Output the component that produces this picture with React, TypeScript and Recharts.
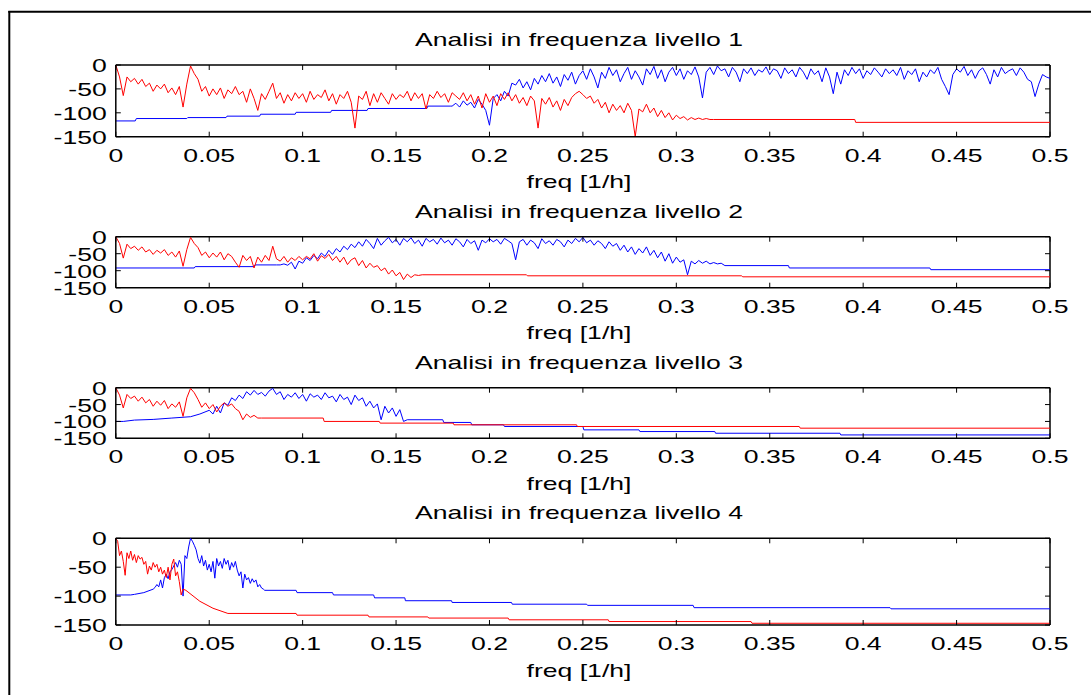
import React from "react";
import { LineChart, Line, XAxis, YAxis, ReferenceLine } from "recharts";

// tick labels shared by the four panels
const xTickLabels = ["0", "0.05", "0.1", "0.15", "0.2", "0.25", "0.3", "0.35", "0.4", "0.45", "0.5"];
const yTickValues = [0, -50, -100, -150];
const panelTitles = [
  "Analisi in frequenza livello 1",
  "Analisi in frequenza livello 2",
  "Analisi in frequenza livello 3",
  "Analisi in frequenza livello 4",
];
const xLabel = "freq [1/h]";

// ---- livello 1 ----
// red: noisy from 0 to 0.32 (step 0.002), then flat
const l1RedNoise = [
  0, -25, -64, -25, -35, -28, -40, -30, -45, -38,
  -55, -42, -50, -40, -58, -48, -62, -45, -88, -40,
  -2, -18, -30, -55, -45, -65, -50, -62, -48, -70,
  -52, -60, -45, -62, -55, -78, -50, -70, -95, -60,
  -72, -55, -38, -70, -58, -80, -62, -75, -58, -70,
  -60, -78, -55, -72, -62, -68, -52, -75, -60, -82,
  -62, -70, -55, -78, -132, -65, -72, -55, -85, -60,
  -78, -58, -70, -82, -60, -72, -62, -68, -55, -75,
  -58, -70, -60, -92, -62, -70, -55, -68, -60, -78,
  -58, -65, -72, -58, -75, -62, -82, -65, -90, -60,
  -78, -65, -85, -60, -72, -58, -75, -62, -80, -68,
  -85, -65, -75, -132, -70, -82, -68, -88, -75, -95,
  -72, -85, -68, -60, -55, -62, -70, -65, -80, -72,
  -90, -78, -100, -82, -95, -85, -100, -80, -95, -150,
  -92, -98, -82, -100, -90, -108, -95, -110, -100, -115,
  -105, -112, -108, -115, -110, -114, -111, -114, -112, -114,
  -114,
];
const l1RedTailF = [0.3955, 0.396, 0.5];
const l1RedTailDb = [-114, -120, -120];

// blue: staircase up to 0.18, then noisy to 0.5 (step 0.002)
const l1BlueHeadF = [0, 0.0104, 0.011, 0.038, 0.0385, 0.059, 0.0595, 0.077, 0.0775, 0.096, 0.0965, 0.115, 0.1155, 0.1345, 0.135, 0.1665, 0.167, 0.179];
const l1BlueHeadDb = [-117, -117, -112, -112, -110, -110, -107, -107, -103, -103, -99, -99, -95, -95, -91, -91, -86, -86];
const l1BlueNoise = [
  -86, -80, -88, -75, -84, -78, -90, -72, -82, -95,
  -126, -70, -62, -75, -55, -65, -38, -42, -30, -48,
  -35, -52, -28, -40, -22, -35, -18, -38, -25, -45,
  -20, -32, -15, -40, -22, -12, -30, -8, -25, -48,
  -15, -28, -5, -22, -10, -35, -18, -5, -30, -12,
  -25, -42, -8, -20, -3, -28, -10, -35, -15, -5,
  -22, -8, -30, -12, -20, -4, -25, -69, -15, -5,
  -20, -2, -12, -8, -25, -5, -15, -35, -8, -18,
  -6, -22, -10, -15, -4, -20, -8, -12, -28, -6,
  -18, -10, -25, -5, -15, -30, -8, -20, -12, -35,
  -6, -25, -60, -15, -40, -10, -22, -5, -18, -8,
  -28, -12, -20, -6, -15, -25, -8, -18, -10, -22,
  -5, -30, -12, -20, -8, -35, -15, -25, -10, -18,
  -5, -30, -45, -62, -20, -8, -15, -3, -22, -10,
  -28, -12, -6, -20, -40, -10, -25, -5, -18, -12,
  -8, -22, -6, -15, -30, -35, -66, -40, -20, -25,
  -28,
];

// ---- livello 2 ----
const l2RedNoise = [
  0, -20, -63, -22, -35, -28, -40, -30, -45, -38,
  -52, -40, -48, -38, -55, -45, -60, -42, -87, -38,
  -2, -20, -32, -55, -45, -62, -48, -60, -45, -68,
  -50, -58, -75, -90, -55, -70, -58, -92, -60, -75,
  -55, -70, -28, -65, -72, -58, -75, -62, -70, -58,
  -68, -58, -65, -50, -72, -56, -64, -52, -70, -58,
  -75, -60, -82, -68, -62, -85, -70, -92, -78, -90,
  -85, -100, -92, -110, -98, -115, -105, -126, -110, -120,
  -112, -114, -112,
];
const l2RedTailF = [0.2198, 0.2203, 0.335, 0.3355, 0.5];
const l2RedTailDb = [-112, -115, -115, -118, -118];

const l2BlueHeadF = [0, 0.042, 0.0425, 0.074, 0.0745, 0.086];
const l2BlueHeadDb = [-92, -92, -88, -88, -83, -83];
// noisy from 0.088 to 0.326 (step 0.002)
const l2BlueNoise = [
  -83, -80, -84, -75, -95, -72, -78, -62, -70, -55,
  -65, -48, -58, -40, -52, -35, -45, -28, -38, -22,
  -32, -15, -28, -8, -20, -35, -5, -25, -12, -2,
  -18, -8, -25, -5, -15, -3, -20, -10, -28, -5,
  -15, -8, -22, -4, -18, -10, -25, -6, -15, -30,
  -8, -20, -12, -40, -10, -18, -6, -15, -8, -22,
  -5, -12, -20, -68, -15, -8, -25, -10, -18, -35,
  -6, -20, -12, -25, -8, -15, -30, -10, -20, -5,
  -15, -2, -18, -10, -25, -12, -20, -35, -15, -28,
  -20, -40, -25, -45, -30, -52, -35, -48, -30, -55,
  -40, -62, -45, -72, -50, -78, -60, -75, -68, -112,
  -72, -80, -70, -78, -72, -80, -76, -80, -78, -85,
];
const l2BlueTailF = [0.36, 0.3605, 0.4357, 0.4362, 0.5];
const l2BlueTailDb = [-85, -92, -92, -97, -97];

// ---- livello 3 ----
const l3RedNoise = [
  0, -22, -60, -20, -32, -25, -40, -28, -45, -35,
  -55, -40, -52, -38, -62, -48, -58, -42, -85, -30,
  -2, -15, -35, -58, -45, -62, -50, -72, -55, -45,
  -55, -48, -62, -70, -95, -78, -88, -82, -90, -90,
];
const l3RedTailF = [0.111, 0.1115, 0.141, 0.1415, 0.1806, 0.181, 0.2466, 0.247, 0.3658, 0.3663, 0.5];
const l3RedTailDb = [-90, -100, -100, -105, -105, -110, -110, -115, -115, -120, -120];

const l3BlueHeadF = [0, 0.004, 0.01, 0.02, 0.03, 0.04, 0.045];
const l3BlueHeadDb = [-100, -100, -96, -94, -90, -86, -78];
// noisy from 0.05 to 0.156 (step 0.002)
const l3BlueNoise = [
  -67, -78, -55, -75, -45, -52, -30, -38, -22, -32,
  -12, -22, -8, -20, -14, -25, -10, -2, -20, -12,
  -35, -20, -28, -15, -32, -20, -40, -18, -28, -22,
  -35, -15, -30, -25, -42, -20, -35, -28, -50, -22,
  -38, -30, -55, -40, -60, -48, -95, -55, -75, -60,
  -85, -65, -100, -95,
];
const l3BlueTailF = [0.175, 0.1755, 0.19, 0.1905, 0.2075, 0.208, 0.25, 0.2505, 0.28, 0.2805, 0.3206, 0.321, 0.3876, 0.388, 0.5];
const l3BlueTailDb = [-95, -103, -103, -110, -110, -115, -115, -125, -125, -130, -130, -135, -135, -140, -140];

// ---- livello 4 ----
// step 0.001 here, the interesting band is narrow
const l4RedNoise = [
  0, -5, -30, -22, -40, -64, -25, -35, -22, -38,
  -28, -42, -30, -36, -33, -45, -40, -62, -48, -55,
  -42, -50, -45, -58, -50, -62, -55, -68, -50, -72,
  -45, -36, -65, -58, -75, -98, -88,
];
const l4RedTailF = [0.0375, 0.045, 0.052, 0.06, 0.0965, 0.097, 0.135, 0.1355, 0.167, 0.1675, 0.21, 0.2105, 0.2636, 0.264, 0.34, 0.3405, 0.5];
const l4RedTailDb = [-90, -109, -121, -130, -130, -133, -133, -136, -136, -138, -138, -141, -141, -144, -144, -147, -147];

const l4BlueHeadF = [0, 0.008, 0.01, 0.015, 0.02];
const l4BlueHeadDb = [-98, -98, -97, -94, -88];
// noisy from 0.021 to 0.079 (step 0.001)
const l4BlueNoise = [
  -85, -80, -84, -72, -86, -68, -62, -70, -58, -54,
  -48, -42, -50, -38, -45, -100, -30, -35, -15, 0,
  -5, -12, -20, -35, -43, -30, -48, -38, -55, -45,
  -58, -40, -69, -35, -48, -40, -52, -35, -45, -38,
  -55, -42, -50, -40, -55, -65, -58, -86, -62, -72,
  -68, -78, -70, -76, -72, -84, -80, -86, -88,
];
const l4BlueTailF = [0.0797, 0.0965, 0.097, 0.116, 0.1165, 0.138, 0.1385, 0.1547, 0.155, 0.1797, 0.18, 0.2118, 0.2122, 0.252, 0.2525, 0.309, 0.3095, 0.4144, 0.4149, 0.5];
const l4BlueTailDb = [-90, -90, -94, -94, -98, -98, -103, -103, -108, -108, -111, -111, -114, -114, -116, -116, -120, -120, -122, -122];

type Pt = { f: number; db: number };

const corners = (fs: number[], dbs: number[]): Pt[] => fs.map((f, i) => ({ f, db: dbs[i] }));
const sampled = (start: number, step: number, dbs: number[]): Pt[] =>
  dbs.map((db, i) => ({ f: +(start + i * step).toFixed(4), db }));

const panels = [
  {
    top: 65,
    bottom: 136.7,
    blue: [...corners(l1BlueHeadF, l1BlueHeadDb), ...sampled(0.18, 0.002, l1BlueNoise)],
    red: [...sampled(0, 0.002, l1RedNoise), ...corners(l1RedTailF, l1RedTailDb)],
  },
  {
    top: 236.7,
    bottom: 287.7,
    blue: [...corners(l2BlueHeadF, l2BlueHeadDb), ...sampled(0.088, 0.002, l2BlueNoise), ...corners(l2BlueTailF, l2BlueTailDb)],
    red: [...sampled(0, 0.002, l2RedNoise), ...corners(l2RedTailF, l2RedTailDb)],
  },
  {
    top: 387.7,
    bottom: 438.3,
    blue: [...corners(l3BlueHeadF, l3BlueHeadDb), ...sampled(0.05, 0.002, l3BlueNoise), ...corners(l3BlueTailF, l3BlueTailDb)],
    red: [...sampled(0, 0.002, l3RedNoise), ...corners(l3RedTailF, l3RedTailDb)],
  },
  {
    top: 538.3,
    bottom: 625,
    blue: [...corners(l4BlueHeadF, l4BlueHeadDb), ...sampled(0.021, 0.001, l4BlueNoise), ...corners(l4BlueTailF, l4BlueTailDb)],
    red: [...sampled(0, 0.001, l4RedNoise), ...corners(l4RedTailF, l4RedTailDb)],
  },
];

const W = 1091;
const H = 695;
const PLOT_LEFT = 115.8;
const PLOT_RIGHT = 1050;
const AXIS_H = 30; // room reserved under each plot for the x axis
const AXIS_W = 60; // room reserved left of each plot for the y axis
const TICK_LEN = 5;
const FONT = "'Liberation Sans', Arial, Helvetica, sans-serif";
const FONT_SIZE = 19;
const STRETCH = 1.4; // the labels are drawn wide
const TEXT_X = 579;

const Wide = ({ x, y, anchor, children }: { x: number; y: number; anchor: "start" | "middle" | "end"; children: React.ReactNode }) => (
  <text
    transform={`translate(${x},${y}) scale(${STRETCH},1)`}
    textAnchor={anchor}
    fontSize={FONT_SIZE}
    fontFamily={FONT}
    fill="#000"
  >
    {children}
  </text>
);

const XTick = (props: any) => {
  const { x, y, payload, top } = props;
  return (
    <g>
      <line x1={x} x2={x} y1={y} y2={y - TICK_LEN} stroke="#000" strokeWidth={1} />
      <line x1={x} x2={x} y1={top} y2={top + TICK_LEN} stroke="#000" strokeWidth={1} />
      <Wide x={x} y={y + 25} anchor="middle">{String(payload.value)}</Wide>
    </g>
  );
};

const YTick = (props: any) => {
  const { x, y, payload } = props;
  return (
    <g>
      <line x1={x} x2={x + TICK_LEN} y1={y} y2={y} stroke="#000" strokeWidth={1} />
      <line x1={PLOT_RIGHT - TICK_LEN} x2={PLOT_RIGHT} y1={y} y2={y} stroke="#000" strokeWidth={1} />
      <Wide x={x - 9} y={y + 7} anchor="end">{String(payload.value)}</Wide>
    </g>
  );
};

const box = { stroke: "#000", strokeWidth: 1.5 };

const Panel = ({ top, bottom, blue, red }: { top: number; bottom: number; blue: Pt[]; red: Pt[] }) => (
  <div style={{ position: "absolute", left: 0, top: 0 }}>
    <LineChart
      width={W}
      height={H}
      margin={{ top, bottom: H - bottom - AXIS_H, left: PLOT_LEFT - AXIS_W, right: W - PLOT_RIGHT }}
    >
      <XAxis
        dataKey="f"
        type="number"
        domain={[0, 0.5]}
        ticks={xTickLabels.map(Number)}
        interval={0}
        height={AXIS_H}
        tickSize={0}
        tickMargin={0}
        tickLine={false}
        axisLine={box}
        tick={(p: any) => <XTick {...p} top={top} />}
      />
      <YAxis
        type="number"
        domain={[-150, 0]}
        ticks={yTickValues}
        interval={0}
        width={AXIS_W}
        tickSize={0}
        tickMargin={0}
        tickLine={false}
        axisLine={box}
        tick={(p: any) => <YTick {...p} />}
      />
      <ReferenceLine y={0} {...box} />
      <ReferenceLine x={0.5} {...box} />
      <Line data={blue} dataKey="db" stroke="#0000ff" strokeWidth={1} dot={false} isAnimationActive={false} />
      <Line data={red} dataKey="db" stroke="#ff0000" strokeWidth={1} dot={false} isAnimationActive={false} />
    </LineChart>
  </div>
);

export default function App() {
  return (
    <div style={{ position: "absolute", left: 0, top: 0, width: W, height: H, background: "#fff", overflow: "hidden" }}>
      {panels.map((p, i) => (
        <Panel key={i} {...p} />
      ))}
      <svg width={W} height={H} style={{ position: "absolute", left: 0, top: 0 }}>
        <line x1={9.3} x2={9.3} y1={11} y2={H} stroke="#000" strokeWidth={2} />
        <line x1={8.3} x2={W} y1={11.8} y2={11.8} stroke="#000" strokeWidth={2} />
        {panels.map((p, i) => (
          <g key={i}>
            <Wide x={TEXT_X} y={p.top - 19} anchor="middle">{panelTitles[i]}</Wide>
            <Wide x={TEXT_X} y={p.bottom + 51.5} anchor="middle">{xLabel}</Wide>
          </g>
        ))}
      </svg>
    </div>
  );
}
